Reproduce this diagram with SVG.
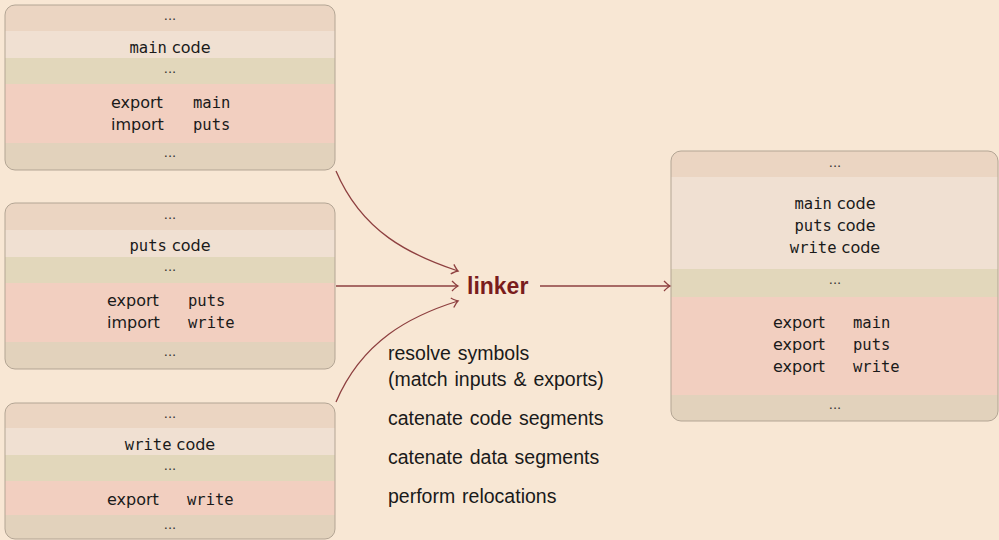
<svg xmlns="http://www.w3.org/2000/svg" width="999" height="540" viewBox="0 0 999 540">
<defs>
<style>
.bg{fill:#f8e7d4}
.b1{fill:#ebd5c2}
.b2{fill:#f0e0d2}
.b3{fill:#e2d7bb}
.b4{fill:#f2cfc0}
.b5{fill:#e2d2bc}
.frame{fill:none;stroke:#b3a594;stroke-width:1}
.t{font-family:"DejaVu Sans",sans-serif;font-size:16px;fill:#1a1a1a}
.m{font-family:"DejaVu Sans Mono",monospace;font-size:15.5px}
.d{font-family:"DejaVu Sans",sans-serif;font-size:13px;fill:#333;text-anchor:middle}
.c{text-anchor:middle}
.note{font-family:"Liberation Sans",Arial,sans-serif;font-size:19.5px;word-spacing:1.5px;fill:#1a1a1a}
.conn{fill:none;stroke:#8e4040;stroke-width:1.3}
.lk{font-family:"Liberation Sans",Arial,sans-serif;font-weight:bold;font-size:23px;fill:#7a1c1c}
</style>
<marker id="ah" viewBox="-8 -6 10 12" markerWidth="10" markerHeight="12" refX="0" refY="0" orient="auto" markerUnits="userSpaceOnUse">
<path d="M-6,-5 Q-2,-1 0,0 Q-2,1 -6,5" fill="none" stroke="#8e4040" stroke-width="1.3"/>
</marker>
<clipPath id="c1"><rect x="5" y="5" width="330" height="165" rx="10"/></clipPath>
<clipPath id="c2"><rect x="5" y="203" width="330" height="166" rx="10"/></clipPath>
<clipPath id="c3"><rect x="5" y="403" width="330" height="136" rx="10"/></clipPath>
<clipPath id="c4"><rect x="671" y="151" width="327" height="270" rx="10"/></clipPath>
</defs>
<rect class="bg" x="0" y="0" width="999" height="540"/>

<g id="obj-main">
<g clip-path="url(#c1)">
<rect class="b1" x="5" y="5" width="330" height="26"/>
<rect class="b2" x="5" y="31" width="330" height="27"/>
<rect class="b3" x="5" y="58" width="330" height="26"/>
<rect class="b4" x="5" y="84" width="330" height="59"/>
<rect class="b5" x="5" y="143" width="330" height="27"/>
</g>
<rect class="frame" x="5" y="5" width="330" height="165" rx="10"/>
<text class="d" x="170" y="20">...</text>
<text class="t c" x="170" y="53"><tspan class="m">main</tspan> code</text>
<text class="d" x="170" y="73">...</text>
<text class="t" x="111" y="108">export</text>
<text class="t m" x="193" y="108">main</text>
<text class="t" x="111" y="130">import</text>
<text class="t m" x="193" y="130">puts</text>
<text class="d" x="170" y="157">...</text>
</g>

<g id="obj-puts">
<g clip-path="url(#c2)">
<rect class="b1" x="5" y="203" width="330" height="27"/>
<rect class="b2" x="5" y="230" width="330" height="27"/>
<rect class="b3" x="5" y="257" width="330" height="26"/>
<rect class="b4" x="5" y="283" width="330" height="59"/>
<rect class="b5" x="5" y="342" width="330" height="27"/>
</g>
<rect class="frame" x="5" y="203" width="330" height="166" rx="10"/>
<text class="d" x="170" y="219">...</text>
<text class="t c" x="170" y="251"><tspan class="m">puts</tspan> code</text>
<text class="d" x="170" y="271">...</text>
<text class="t" x="107" y="306">export</text>
<text class="t m" x="188" y="306">puts</text>
<text class="t" x="107" y="328">import</text>
<text class="t m" x="188" y="328">write</text>
<text class="d" x="170" y="356">...</text>
</g>

<g id="obj-write">
<g clip-path="url(#c3)">
<rect class="b1" x="5" y="403" width="330" height="25"/>
<rect class="b2" x="5" y="428" width="330" height="27"/>
<rect class="b3" x="5" y="455" width="330" height="26"/>
<rect class="b4" x="5" y="481" width="330" height="34"/>
<rect class="b5" x="5" y="515" width="330" height="24"/>
</g>
<rect class="frame" x="5" y="403" width="330" height="136" rx="10"/>
<text class="d" x="170" y="418">...</text>
<text class="t c" x="170" y="450"><tspan class="m">write</tspan> code</text>
<text class="d" x="170" y="470">...</text>
<text class="t" x="107" y="505">export</text>
<text class="t m" x="187" y="505">write</text>
<text class="d" x="170" y="529">...</text>
</g>

<g id="linker">
<text class="lk" x="467" y="294">linker</text>
</g>

<g id="steps">
<text class="note" x="388" y="360">resolve symbols</text>
<text class="note" x="388" y="386">(match inputs &amp; exports)</text>
<text class="note" x="388" y="425">catenate code segments</text>
<text class="note" x="388" y="464">catenate data segments</text>
<text class="note" x="388" y="503">perform relocations</text>
</g>

<g id="obj-out">
<g clip-path="url(#c4)">
<rect class="b1" x="671" y="151" width="327" height="26"/>
<rect class="b2" x="671" y="177" width="327" height="92"/>
<rect class="b3" x="671" y="269" width="327" height="28"/>
<rect class="b4" x="671" y="297" width="327" height="98"/>
<rect class="b5" x="671" y="395" width="327" height="26"/>
</g>
<rect class="frame" x="671" y="151" width="327" height="270" rx="10"/>
<text class="d" x="835" y="167">...</text>
<text class="t c" x="835" y="209"><tspan class="m">main</tspan> code</text>
<text class="t c" x="835" y="231"><tspan class="m">puts</tspan> code</text>
<text class="t c" x="835" y="253"><tspan class="m">write</tspan> code</text>
<text class="d" x="835" y="284">...</text>
<text class="t" x="773" y="328">export</text>
<text class="t m" x="853" y="328">main</text>
<text class="t" x="773" y="350">export</text>
<text class="t m" x="853" y="350">puts</text>
<text class="t" x="773" y="372">export</text>
<text class="t m" x="853" y="372">write</text>
<text class="d" x="835" y="409">...</text>
</g>

<g id="connectors">
<path class="conn" marker-end="url(#ah)" d="M336,171 C362,232 410,255 458,271"/>
<path class="conn" marker-end="url(#ah)" d="M336,286 L458,286"/>
<path class="conn" marker-end="url(#ah)" d="M336,402 C362,341 410,316 458,301"/>
<path class="conn" marker-end="url(#ah)" d="M540,286 L670,286"/>
</g>
</svg>
